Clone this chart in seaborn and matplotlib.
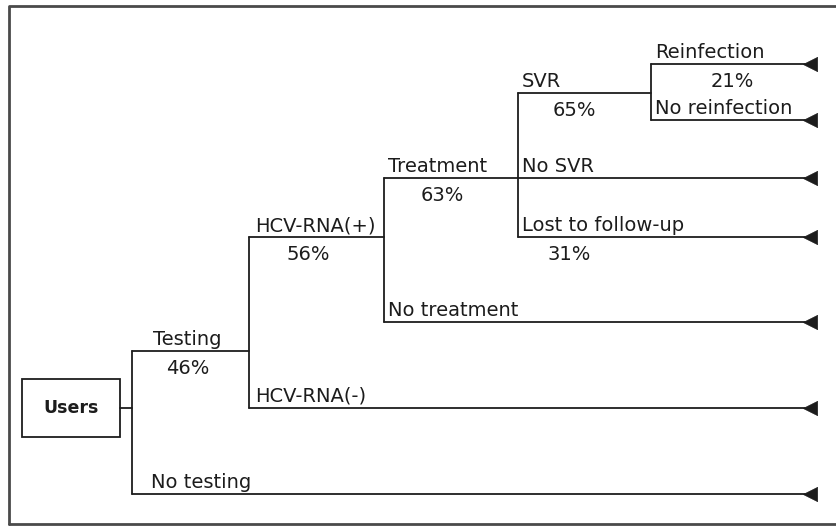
import pandas as pd
import numpy as np
import matplotlib.pyplot as plt
import seaborn as sns

# Tree branches (label above line, percentage below line)
labels = ["Testing", "No testing", "HCV-RNA(+)", "HCV-RNA(-)", "Treatment",
          "No treatment", "SVR", "No SVR", "Lost to follow-up",
          "Reinfection", "No reinfection"]
pcts = ["46%", "", "56%", "", "63%", "", "65%", "", "31%", "21%", ""]
parent = [None, None, 0, 0, 2, 2, 4, 4, 4, 6, 6]

# layout (pixel space of the 836x526 canvas)
branch_x0 = [132, 132, 249, 249, 384, 384, 518, 518, 518, 651, 651]
branch_y = [351, 494, 237, 408, 178, 322, 93, 178, 237, 64, 120]
label_dx = [21, 19, 6, 6, 4, 4, 4, 4, 4, 4, 4]
pct_x = [188, None, 308, None, 442, None, 574, None, 569, 732, None]
end_x = 805
ink = "#1c1c1c"

sns.set_theme(style="white")
plt.rcParams['font.family'] = ['DejaVu Sans']

fig = plt.figure(figsize=(8.36, 5.26), dpi=100)
ax = fig.add_axes([0, 0, 1, 1])

# where does each branch end: at its children's fork, or at the terminal arrow
branch_x1 = []
for i in range(len(labels)):
    kids = [j for j in range(len(labels)) if parent[j] == i]
    branch_x1.append(branch_x0[kids[0]] if kids else end_x)

segs = []
sid = 0
for i in range(len(labels)):
    segs.append({"seg": sid, "x": branch_x0[i], "y": branch_y[i]})
    segs.append({"seg": sid, "x": branch_x1[i], "y": branch_y[i]})
    sid += 1

# vertical forks
forks = {}
for i in range(len(labels)):
    forks.setdefault(branch_x0[i], []).append(branch_y[i])
for fx, ys in forks.items():
    segs.append({"seg": sid, "x": fx, "y": min(ys)})
    segs.append({"seg": sid, "x": fx, "y": max(ys)})
    sid += 1

# box -> first fork
box_l, box_r, box_t, box_b = 22, 120, 379, 437
mid_y = (box_t + box_b) / 2
segs.append({"seg": sid, "x": box_r, "y": mid_y})
segs.append({"seg": sid, "x": 132, "y": mid_y})
sid += 1

df = pd.DataFrame(segs)
sns.lineplot(data=df, x="x", y="y", units="seg", estimator=None, sort=False,
             color=ink, lw=1.3, ax=ax, legend=False)

# terminal arrows
is_end = [branch_x1[i] == end_x for i in range(len(labels))]
term = pd.DataFrame({"x": [end_x + 4.5 for i in range(len(labels)) if is_end[i]],
                     "y": [branch_y[i] for i in range(len(labels)) if is_end[i]]})
sns.scatterplot(data=term, x="x", y="y", marker="<", s=105, color=ink,
                edgecolor=ink, linewidth=0.5, ax=ax, legend=False)

# Users box
ax.add_patch(plt.Rectangle((box_l, box_t), box_r - box_l, box_b - box_t,
                           fill=False, edgecolor=ink, lw=1.3))
ax.text((box_l + box_r) / 2, mid_y, "Users", ha="center", va="center",
        fontsize=12.5, fontweight="bold", color=ink)

# branch texts
for i, lab in enumerate(labels):
    ax.text(branch_x0[i] + label_dx[i], branch_y[i] - 6, lab, ha="left",
            va="baseline", fontsize=14, color=ink)
    if pcts[i]:
        ax.text(pct_x[i], branch_y[i] + 23, pcts[i], ha="center",
                va="baseline", fontsize=14, color=ink)

# outer frame
ax.plot([9, 9, 840], [524, 6, 6], color="#4a4a4a", lw=2)
ax.plot([9, 840], [524, 524], color="#4a4a4a", lw=2)

ax.set_xlim(0, 836)
ax.set_ylim(526, 0)
ax.axis("off")
ax.set_xlabel("")
ax.set_ylabel("")

fig.savefig("out.png", dpi=100, facecolor="white")
